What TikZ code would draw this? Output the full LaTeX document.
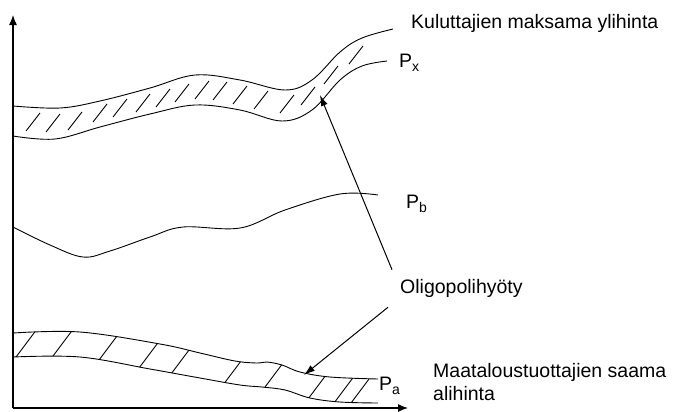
\documentclass[tikz,border=0pt]{standalone}
\usepackage{fontspec}
\setmainfont{Liberation Sans}
\usetikzlibrary{arrows.meta}

\tikzset{
  curve/.style={line width=0.9bp, smooth, tension=0.6},
  hatch/.style={line width=0.9bp},
  axis/.style={line width=1.2bp, -{Latex[length=10bp,width=8bp]}},
  pointer/.style={line width=1bp, -{Latex[length=11bp,width=7bp]}},
  lbl/.style={anchor=base west, inner sep=0pt, font=\fontsize{19.5bp}{23bp}\selectfont}
}
\newcommand{\subx}[1]{\raisebox{-4bp}{\fontsize{14bp}{14bp}\selectfont #1}}

\begin{document}
\begin{tikzpicture}[x=1bp, y=-1bp]
  \useasboundingbox (0,0) rectangle (681,411);

  % axes
  \coordinate (O) at (13,408);
  \coordinate (ytop) at (13,15);
  \coordinate (xend) at (408,408);
  \draw[axis] (O) -- (ytop);
  \draw[axis] (O) -- (xend);

  % upper band: consumers' overprice
  \draw[curve] plot coordinates {(13,106) (60,108) (100,101) (150,88) (195,75) (240,80) (285,90) (312,80) (340,52) (362,38) (393,29)};
  \draw[curve] plot coordinates {(13,136) (55,139) (100,127) (150,114) (195,105) (240,110) (282,121) (312,110) (340,80) (362,66) (387,61)};
  \foreach \hx/\hy in {33/122, 53/123, 75/121, 100/113, 120/108, 143/103, 163/98, 182/93, 202/90, 220/91, 240/95, 261/100, 287/104, 308/96, 331/75, 356/55}
    \draw[hatch] (\hx-7,\hy+9) -- (\hx+7,\hy-9);

  % middle price line
  \draw[curve] plot coordinates {(13,227) (50,245) (83,257) (110,251) (150,237) (183,227) (240,228) (285,210) (340,194) (378,195)};

  % lower band: producers' underprice
  \draw[curve] plot coordinates {(13,333) (80,332) (160,344) (200,353) (235,361) (257,363) (267,362) (282,365) (300,372) (330,377) (378,379)};
  \draw[curve] plot coordinates {(13,357) (80,357) (150,369) (200,378) (240,385) (262,387) (285,390) (310,398) (340,402) (378,403)};
  \begin{scope}
    \clip plot[smooth, tension=0.6] coordinates {(13,333) (80,332) (160,344) (200,353) (235,361) (257,363) (267,362) (282,365) (300,372) (330,377) (378,379)}
      -- plot[smooth, tension=0.6] coordinates {(378,403) (340,402) (310,398) (285,390) (262,387) (240,385) (200,378) (150,369) (80,357) (13,357)} -- cycle;
    \foreach \hx/\hy in {25/345, 62/344, 108/348, 148/356, 180/362, 232/373, 274/375, 317/387, 343/391, 360/391}
      \draw[hatch] (\hx-15,\hy+20) -- (\hx+15,\hy-20);
  \end{scope}

  % labels
  \node[lbl] (kul) at (411,28) {Kuluttajien maksama ylihinta};
  \node[lbl] (px) at (399,67) {P\subx{x}};
  \node[lbl] (pb) at (406,208) {P\subx{b}};
  \node[lbl] (olig) at (400,293) {Oligopolihyöty};
  \node[lbl] (pa) at (379,390) {P\subx{a}};
  \node[lbl, anchor=north west, align=left] (maa) at (433,363) {Maataloustuottajien saama\\alihinta};

  % pointers to both bands
  \coordinate (topgain) at (320,95);
  \coordinate (botgain) at (304,375);
  \draw[pointer] ([shift={(-8,-9)}]olig.north west) -- (topgain);
  \draw[pointer] ([shift={(-12,10)}]olig.south west) -- (botgain);
\end{tikzpicture}
\end{document}
